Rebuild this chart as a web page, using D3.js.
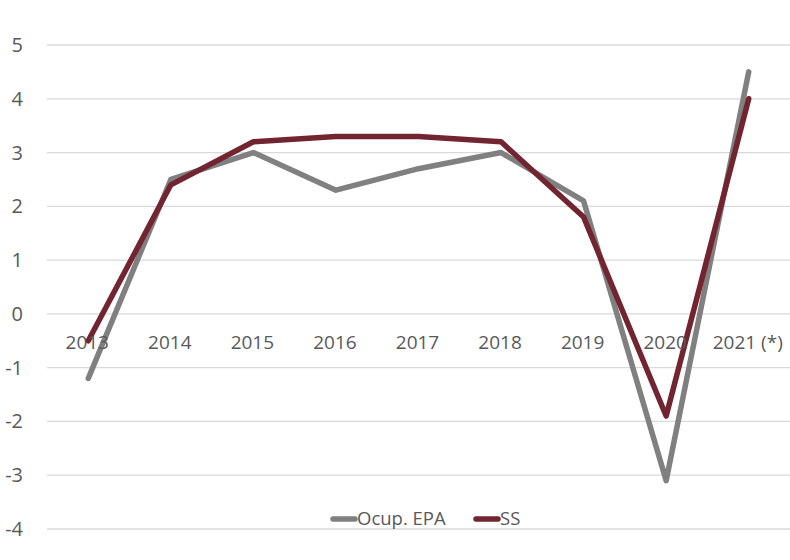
<!DOCTYPE html>
<html><head><meta charset="utf-8">
<script src="https://cdn.jsdelivr.net/npm/d3@7"></script>
<style>body{margin:0;background:#fff}svg{display:block}text{font-family:"Open Sans",sans-serif;fill:#595959}</style>
</head><body><svg id="c" width="790" height="560"></svg>
<script>
const years = ["2013","2014","2015","2016","2017","2018","2019","2020","2021 (*)"];
const epa = [-1.2, 2.5, 3.0, 2.3, 2.7, 3.0, 2.1, -3.1, 4.5];
const ss  = [-0.5, 2.4, 3.2, 3.3, 3.3, 3.2, 1.8, -1.9, 4.0];
const yTicks = [5,4,3,2,1,0,-1,-2,-3,-4];
const seriesNames = ["Ocup. EPA","SS"];
const colors = ["#808080","#722431"];

const svg = d3.select("#c");
const x = d3.scaleBand().domain(years).range([47, 790]);
const y = d3.scaleLinear().domain([-4, 5]).range([529, 45]);

svg.append("g").selectAll("line").data(yTicks).join("line")
  .attr("x1", 47).attr("x2", 790)
  .attr("y1", d => y(d)).attr("y2", d => y(d))
  .attr("stroke", "#d9d9d9").attr("stroke-width", 1.3);

svg.append("g").selectAll("text").data(yTicks).join("text")
  .attr("x", 23).attr("y", d => y(d)).attr("dy", "0.35em")
  .attr("text-anchor", "end").attr("font-size", 20).text(d => d);

const line = d3.line().x((d,i) => x(years[i]) + x.bandwidth()/2).y(d => y(d));
[epa, ss].forEach((s, k) => {
  svg.append("path").datum(s).attr("d", line)
    .attr("fill", "none").attr("stroke", colors[k]).attr("stroke-width", 5.5)
    .attr("stroke-linejoin", "round").attr("stroke-linecap", "round");
});

svg.append("g").selectAll("text").data(years).join("text")
  .attr("x", d => x(d) + x.bandwidth()/2 - 1).attr("y", 342).attr("dy", "0.35em")
  .attr("text-anchor", "middle").attr("font-size", 19).text(d => d);

const leg = [{x:331, name:seriesNames[0], c:colors[0]}, {x:474, name:seriesNames[1], c:colors[1]}];
leg.forEach(l => {
  svg.append("line").attr("x1", l.x+2).attr("x2", l.x+24).attr("y1", 519).attr("y2", 519)
    .attr("stroke", l.c).attr("stroke-width", 5.5).attr("stroke-linecap", "round");
  svg.append("text").attr("x", l.x+26).attr("y", 519).attr("dy", "0.35em")
    .attr("font-size", 18.5).text(l.name);
});
</script></body></html>
